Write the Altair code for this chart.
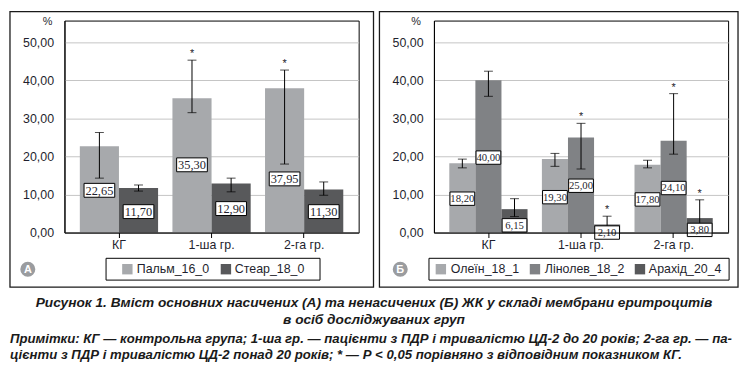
import altair as alt
import pandas as pd

groups = ["КГ", "1-ша гр.", "2-га гр."]

# Panel A (saturated)
series_a = ["Пальм_16_0", "Стеар_18_0"]
colors_a = ["#a7a9ac", "#58595b"]
palm_vals = [22.65, 35.30, 37.95]
palm_low = [14.3, 31.5, 18.0]
palm_high = [26.3, 45.3, 42.7]
palm_sig = [False, True, True]
palm_label_at = [11.1, 17.8, 14.1]
stear_vals = [11.70, 12.90, 11.30]
stear_low = [10.9, 10.7, 9.8]
stear_high = [12.5, 14.3, 13.3]
stear_sig = [False, False, False]
stear_label_at = [5.5, 6.3, 5.5]

# Panel B (unsaturated)
series_b = ["Олеїн_18_1", "Лінолев_18_2", "Арахід_20_4"]
colors_b = ["#a7a9ac", "#808285", "#58595b"]
olein_vals = [18.20, 19.30, 17.80]
olein_low = [17.0, 17.4, 17.0]
olein_high = [19.3, 20.8, 19.0]
olein_sig = [False, False, False]
olein_label_at = [8.9, 9.3, 8.7]
linol_vals = [40.00, 25.00, 24.10]
linol_low = [35.8, 16.7, 20.6]
linol_high = [42.4, 28.7, 36.5]
linol_sig = [False, True, True]
linol_label_at = [19.7, 12.3, 11.7]
arach_vals = [6.15, 2.10, 3.80]
arach_low = [4.2, 0.0, 0.0]
arach_high = [8.9, 4.3, 8.6]
arach_sig = [False, True, True]
arach_label_at = [1.9, 0.0, 0.7]

y_ticks = [0, 10, 20, 30, 40, 50]
y_max = 55.7

caption_1 = "Рисунок 1.  Вміст основних насичених (А) та ненасичених (Б) ЖК у складі мембрани еритроцитів"
caption_2 = "в осіб досліджуваних груп"
notes_1 = "Примітки:  КГ — контрольна група; 1-ша гр. — пацієнти з ПДР і тривалістю ЦД-2 до 20 років; 2-га гр. — па-"
notes_2 = "цієнти з ПДР і тривалістю ЦД-2 понад 20 років; * — Р < 0,05 порівняно з відповідним показником КГ."


def build_df(series, vals, lows, highs, sigs, label_ats):
    rows = []
    for s, v, lo, hi, sg, la in zip(series, vals, lows, highs, sigs, label_ats):
        for g, vv, ll, hh, ss, aa in zip(groups, v, lo, hi, sg, la):
            rows.append({"group": g, "series": s, "value": vv, "low": ll, "high": hh,
                         "sig": ss, "label_at": aa,
                         "label": f"{vv:.2f}".replace(".", ",")})
    return pd.DataFrame(rows)


df_a = build_df(series_a, [palm_vals, stear_vals], [palm_low, stear_low],
                [palm_high, stear_high], [palm_sig, stear_sig],
                [palm_label_at, stear_label_at])
df_b = build_df(series_b, [olein_vals, linol_vals, arach_vals],
                [olein_low, linol_low, arach_low],
                [olein_high, linol_high, arach_high],
                [olein_sig, linol_sig, arach_sig],
                [olein_label_at, linol_label_at, arach_label_at])

ONE = pd.DataFrame({"k": [0]})
TXT = "#1f1f2e"
FONT = "Liberation Sans"
NARROW = "Liberation Sans Narrow"


def deco_text(text, x, y, **kw):
    return alt.Chart(ONE).mark_text(**kw).encode(
        x=alt.value(x), y=alt.value(y), text=alt.value(text))


def panel(df, series, colors, box_w, box_h, lbl_size, border_r, badge_x, badge_letter,
          pct_x, legend_box, legend_items, extra=()):
    xs = alt.Scale(domain=groups, paddingInner=0.155, paddingOuter=0.166)
    ys = alt.Scale(domain=[0, y_max], nice=False, zero=True)
    xaxis = alt.Axis(title=None, labelAngle=0, labelFont=FONT, labelFontSize=12.5,
                     labelColor=TXT, domainColor="black", tickColor="black",
                     tickSize=5, labelPadding=1, zindex=1)
    yaxis = alt.Axis(title=None, values=y_ticks,
                     labelExpr="replace(format(datum.value, '.2f'), '.', ',')",
                     labelFont=FONT, labelFontSize=12.5, labelColor=TXT,
                     grid=True, gridColor="#c4c4c4", domainColor="black",
                     ticks=False, labelPadding=11)
    X = alt.X("group:N", sort=groups, scale=xs, axis=xaxis)
    XO = alt.XOffset("series:N", sort=series, scale=alt.Scale(domain=series))

    def Y(field):
        return alt.Y(field, type="quantitative", scale=ys, axis=yaxis)

    base = alt.Chart(df)
    bars = base.mark_bar().encode(
        x=X, xOffset=XO, y=Y("value"),
        color=alt.Color("series:N", scale=alt.Scale(domain=series, range=colors),
                        legend=None))
    rules = base.mark_rule(color="black", strokeWidth=1).encode(
        x=X, xOffset=XO, y=Y("low"), y2="high")
    cap_lo = base.mark_tick(color="black", size=9, thickness=1).encode(
        x=X, xOffset=XO, y=Y("low"))
    cap_hi = base.mark_tick(color="black", size=9, thickness=1).encode(
        x=X, xOffset=XO, y=Y("high"))
    stars = base.transform_filter("datum.sig").mark_text(
        text="*", fontSize=11, font=FONT, baseline="bottom", dy=-1, color=TXT).encode(
        x=X, xOffset=XO, y=Y("high"))
    r = box_h / box_w
    shape = f"M-1,-{r:.3f}L1,-{r:.3f}L1,{r:.3f}L-1,{r:.3f}Z"
    boxes = base.mark_point(shape=shape, size=box_w * box_w, filled=True,
                            fill="white", stroke="black", strokeWidth=1,
                            opacity=1).encode(x=X, xOffset=XO, y=Y("label_at"))
    labels = base.mark_text(font=NARROW, fontSize=lbl_size, color=TXT,
                            baseline="middle", dy=0.5).encode(
        x=X, xOffset=XO, y=Y("label_at"), text="label:N")

    border = alt.Chart(ONE).mark_rect(fill="transparent", stroke="#1a1a1a",
                                      strokeWidth=1.3).encode(
        x=alt.value(-55), x2=alt.value(border_r), y=alt.value(-9), y2=alt.value(269))
    lbox = alt.Chart(ONE).mark_rect(fill="transparent", stroke="black",
                                    strokeWidth=1).encode(
        x=alt.value(legend_box[0]), x2=alt.value(legend_box[1]),
        y=alt.value(240), y2=alt.value(262))
    layers = [bars, rules, cap_lo, cap_hi, stars, boxes, labels, border, lbox]
    for (sx, tx), name, col in zip(legend_items, series, colors):
        layers.append(alt.Chart(ONE).mark_point(shape="square", size=110, filled=True,
                                                color=col, opacity=1).encode(
            x=alt.value(sx), y=alt.value(251)))
        layers.append(deco_text(name, tx, 251, font=FONT, fontSize=12.5, color=TXT,
                                align="left", baseline="middle"))
    layers.append(alt.Chart(ONE).mark_point(shape="circle", size=230, filled=True,
                                            color="#9a9c9f", opacity=1).encode(
        x=alt.value(badge_x), y=alt.value(251)))
    layers.append(deco_text(badge_letter, badge_x, 251.5, font=FONT, fontSize=11,
                            fontWeight="bold", color="white", align="center",
                            baseline="middle"))
    layers.append(deco_text("%", pct_x, 1.5, font=FONT, fontSize=11, color=TXT,
                            align="center", baseline="middle"))
    layers.extend(extra)
    return alt.layer(*layers).properties(width=297, height=214)


cap_kw = dict(font=FONT, fontStyle="italic", fontWeight="bold",
              color="#1a1a1a", baseline="middle")
captions = [
    deco_text(caption_1, 312.5, 285, align="center", fontSize=13.8, **cap_kw),
    deco_text(caption_2, 312.5, 302, align="center", fontSize=13.8, **cap_kw),
    deco_text(notes_1, -55, 321, align="left", fontSize=13.3, **cap_kw),
    deco_text(notes_2, -55, 338, align="left", fontSize=13.3, **cap_kw),
]

panel_a = panel(df_a, series_a, colors_a, 31, 14, 12.5, 312, -37, "A", -17,
                (42, 258), [(63.5, 73), (163, 172)], extra=captions)
panel_b = panel(df_b, series_b, colors_b, 25, 13.5, 10.8, 307, -34, "Б", -18,
                (-5, 298), [(7, 17), (102, 112), (208, 217)])

chart = alt.HConcatChart(hconcat=[panel_a, panel_b], spacing=76, bounds="flush",
                         padding=0).resolve_scale(
    x="independent", y="independent", color="independent", xOffset="independent"
).configure_view(stroke="black", strokeWidth=1)

chart.save("out.html", embed_options={"renderer": "svg", "actions": False})
